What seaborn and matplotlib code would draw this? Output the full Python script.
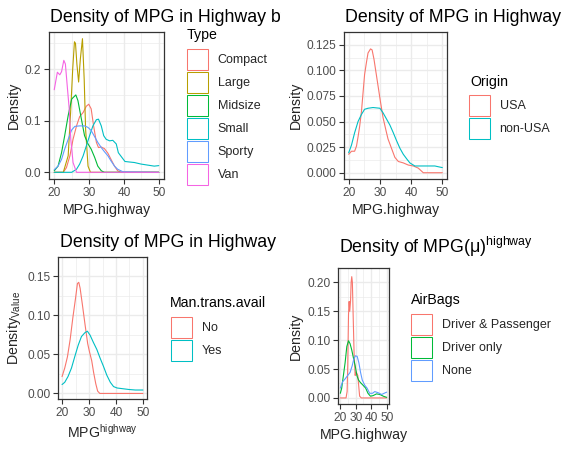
import numpy as np
import pandas as pd
import seaborn as sns
import matplotlib.pyplot as plt
from matplotlib.patches import Patch
from matplotlib.transforms import Bbox, TransformedBbox

# ---- data (density curves of MPG.highway) ----
# panel 1: by Type
compact_x = [20, 22.6, 23.5, 24.5, 25.4, 26.4, 27.3, 28.3, 29.2, 29.9, 30.6, 31.3, 32.1, 32.7, 33.5, 34.4, 35.4, 36.3, 37.3, 38.2, 39.2, 50]
compact_y = [0, 0, 0.009, 0.032, 0.064, 0.09, 0.108, 0.116, 0.128, 0.132, 0.123, 0.09, 0.058, 0.048, 0.049, 0.046, 0.037, 0.025, 0.012, 0.003, 0, 0]
large_x = [20, 22.6, 24.0, 24.7, 25.3, 25.8, 26.1, 26.5, 27.0, 27.5, 28.1, 28.6, 29.0, 29.7, 30.4, 50]
large_y = [0, 0, 0.032, 0.116, 0.2, 0.253, 0.25, 0.21, 0.175, 0.22, 0.259, 0.18, 0.084, 0.012, 0, 0]
midsize_x = [20, 21.1, 22.1, 23, 24, 25, 26.2, 26.8, 27.8, 28.7, 29.7, 30.6, 31.6, 32.5, 33.5, 34.4, 50]
midsize_y = [0.003, 0.012, 0.038, 0.071, 0.11, 0.142, 0.15, 0.139, 0.103, 0.071, 0.055, 0.045, 0.029, 0.012, 0.003, 0, 0]
small_x = [20, 25, 26.4, 27.3, 28.3, 29.2, 30.2, 31.1, 32.1, 32.7, 33.5, 34.2, 34.9, 35.9, 36.8, 37.8, 38.4, 39.4, 40.3, 41.6, 43, 44.9, 46.8, 48.7, 50]
small_y = [0, 0, 0.006, 0.016, 0.032, 0.051, 0.072, 0.09, 0.102, 0.103, 0.09, 0.071, 0.064, 0.061, 0.062, 0.055, 0.038, 0.029, 0.021, 0.02, 0.019, 0.016, 0.014, 0.012, 0.013]
sporty_x = [20, 21.1, 22.1, 23, 24, 25, 25.9, 27.3, 28.7, 29.7, 30.6, 31.6, 32.5, 33.5, 34.4, 35.4, 36.3, 37.3, 38.2, 39.7, 50]
sporty_y = [0.005, 0.012, 0.025, 0.045, 0.064, 0.082, 0.089, 0.09, 0.09, 0.087, 0.081, 0.069, 0.058, 0.048, 0.04, 0.032, 0.022, 0.012, 0.006, 0.001, 0]
van_x = [20, 20.9, 21.6, 22.1, 22.75, 23.2, 23.8, 24.3, 24.75, 25.4, 26.4, 50]
van_y = [0.16, 0.194, 0.189, 0.195, 0.217, 0.21, 0.162, 0.123, 0.064, 0.019, 0, 0]

# panel 2: by Origin
usa_x = [20, 20.9, 21.9, 22.5, 23, 23.5, 24.1, 24.6, 25.1, 25.7, 26.2, 27, 27.5, 28.1, 28.7, 29.5, 30.2, 31, 31.9, 32.6, 33.7, 34.8, 35.9, 37.5, 39.1, 40.7, 42.3, 43.9, 50]
usa_y = [0.018, 0.021, 0.021, 0.026, 0.035, 0.045, 0.06, 0.078, 0.096, 0.108, 0.117, 0.121, 0.12, 0.111, 0.099, 0.083, 0.069, 0.054, 0.042, 0.033, 0.024, 0.015, 0.011, 0.0096, 0.0075, 0.0066, 0.0045, 0, 0]
nonusa_x = [20, 20.9, 21.9, 23, 24.1, 25.1, 26.2, 27.8, 30, 31, 32.1, 33.2, 34.3, 35.3, 36.4, 37.5, 38.6, 39.6, 41.2, 44.4, 47.6, 50]
nonusa_y = [0.0195, 0.027, 0.039, 0.05, 0.057, 0.062, 0.063, 0.0637, 0.063, 0.0586, 0.0526, 0.0466, 0.039, 0.0316, 0.024, 0.018, 0.0135, 0.0096, 0.0066, 0.0066, 0.0066, 0.005]

# panel 3: by Man.trans.avail
no_x = [20, 21, 22, 23, 24, 25, 25.7, 26.2, 26.7, 27.5, 28.5, 29.5, 30.2, 31, 31.7, 32.5, 33.2, 34, 50]
no_y = [0.0216, 0.0326, 0.047, 0.069, 0.097, 0.122, 0.141, 0.1425, 0.135, 0.115, 0.089, 0.064, 0.053, 0.042, 0.027, 0.0125, 0.003, 0, 0]
yes_x = [20, 21, 22.2, 23.5, 24.7, 26, 27.2, 28.5, 29.4, 30.4, 31.6, 32.9, 34.1, 35.4, 36.6, 37.9, 39.1, 40.4, 42.2, 44.7, 47.2, 50]
yes_y = [0.0114, 0.0143, 0.0216, 0.0326, 0.047, 0.062, 0.073, 0.078, 0.0798, 0.0747, 0.0656, 0.0564, 0.0454, 0.0344, 0.0234, 0.0143, 0.0088, 0.007, 0.0062, 0.0051, 0.0044, 0.0044]

# panel 4: by AirBags
dp_x = [20, 23.7, 24.4, 24.8, 25.3, 25.7, 26.1, 26.6, 27, 27.4, 27.8, 28.3, 28.9, 29.6, 30.2, 31.3, 32.5, 33.6, 50]
dp_y = [0, 0, 0.011, 0.056, 0.144, 0.167, 0.15, 0.167, 0.2, 0.21, 0.2, 0.144, 0.078, 0.039, 0.045, 0.039, 0.003, 0, 0]
driver_x = [20, 20.9, 22, 23.1, 24.2, 25.3, 26.3, 27.4, 28.5, 29.6, 30.7, 31.8, 32.9, 34.7, 36.4, 37.9, 39.5, 41.2, 43.4, 45.6, 47.8, 50]
driver_y = [0.008, 0.017, 0.039, 0.061, 0.089, 0.099, 0.094, 0.083, 0.069, 0.056, 0.039, 0.031, 0.027, 0.022, 0.017, 0.008, 0.003, 0.004, 0.007, 0.006, 0.003, 0.001]
none_x = [20, 21.5, 23.1, 24.8, 26.3, 27.7, 28.7, 29.8, 30.9, 32, 33.1, 34.2, 35.8, 37.3, 39, 40.8, 42.3, 44.5, 46.7, 48.3, 50]
none_y = [0.017, 0.028, 0.033, 0.039, 0.044, 0.056, 0.067, 0.073, 0.072, 0.061, 0.044, 0.031, 0.022, 0.017, 0.008, 0.008, 0.011, 0.009, 0.006, 0.008, 0.01]

type_labels = ['Compact', 'Large', 'Midsize', 'Small', 'Sporty', 'Van']
origin_labels = ['USA', 'non-USA']
trans_labels = ['No', 'Yes']
airbag_labels = ['Driver & Passenger', 'Driver only', 'None']

x_ticks = [20, 30, 40, 50]
y_ticks1 = [0.0, 0.1, 0.2]
y_labels1 = ['0.0', '0.1', '0.2']
y_ticks2 = [0.0, 0.025, 0.05, 0.075, 0.1, 0.125]
y_labels2 = ['0.000', '0.025', '0.050', '0.075', '0.100', '0.125']
y_ticks3 = [0.0, 0.05, 0.1, 0.15]
y_labels3 = ['0.00', '0.05', '0.10', '0.15']
y_ticks4 = [0.0, 0.05, 0.1, 0.15, 0.2]
y_labels4 = ['0.00', '0.05', '0.10', '0.15', '0.20']


def long_df(labels, xs, ys):
    frames = [pd.DataFrame({'x': x, 'y': y, 'g': lab}) for lab, x, y in zip(labels, xs, ys)]
    return pd.concat(frames, ignore_index=True)


df1 = long_df(type_labels, [compact_x, large_x, midsize_x, small_x, sporty_x, van_x],
              [compact_y, large_y, midsize_y, small_y, sporty_y, van_y])
df2 = long_df(origin_labels, [usa_x, nonusa_x], [usa_y, nonusa_y])
df3 = long_df(trans_labels, [no_x, yes_x], [no_y, yes_y])
df4 = long_df(airbag_labels, [dp_x, driver_x, none_x], [dp_y, driver_y, none_y])

pal6 = ['#F8766D', '#B79F00', '#00BA38', '#00BFC4', '#619CFF', '#F564E3']
pal2 = ['#F8766D', '#00BFC4']
pal3 = ['#F8766D', '#00BA38', '#619CFF']

sns.set_theme(style='whitegrid')
plt.rcParams['font.family'] = ['Liberation Sans', 'DejaVu Sans']
plt.rcParams['mathtext.fontset'] = 'custom'
plt.rcParams['mathtext.rm'] = 'Liberation Sans'
plt.rcParams['mathtext.it'] = 'Liberation Sans:italic'

W, H = 563, 449
fig = plt.figure(figsize=(W / 100, H / 100), dpi=100, facecolor='white')


def panel(left, top, right, bottom):
    return fig.add_axes([left / W, 1 - bottom / H, (right - left) / W, (bottom - top) / H])


def draw(ax, df, labels, pal, yt, yl, ymax):
    sns.lineplot(data=df, x='x', y='y', hue='g', hue_order=labels, palette=pal,
                 sort=False, estimator=None, linewidth=0.8, legend=False, ax=ax)
    ax.set_xlim(18.5, 51.5)
    ax.set_ylim(-0.05 * ymax, 1.05 * ymax)
    ax.set_xticks(x_ticks)
    ax.set_xticks([25, 35, 45], minor=True)
    ax.set_yticks(yt, yl)
    ax.set_yticks([(a + b) / 2 for a, b in zip(yt[:-1], yt[1:])] + [yt[-1] + (yt[1] - yt[0]) / 2], minor=True)
    ax.set_facecolor('white')
    ax.grid(which='major', color='#EBEBEB', linewidth=1.0)
    ax.grid(which='minor', color='#EBEBEB', linewidth=0.5)
    ax.set_axisbelow(True)
    for s in ax.spines.values():
        s.set_color('#333333')
        s.set_linewidth(0.9)
    ax.tick_params(which='major', colors='#333333', labelcolor='#4D4D4D', labelsize=8.6,
                   length=3.5, width=0.8, pad=2, bottom=True, left=True)
    ax.tick_params(which='minor', length=0)


def legend(ax, labels, pal, left, top):
    handles = [Patch(facecolor='white', edgecolor=c, linewidth=0.75) for c in pal]
    ax.legend(handles, labels, loc='upper left', bbox_to_anchor=(left / W, 1 - top / H),
              bbox_transform=fig.transFigure, frameon=False, fontsize=9,
              handlelength=1.7, handleheight=2.15, labelspacing=0.2, handletextpad=0.75,
              borderpad=0, borderaxespad=0)


def ftext(x, y, s, size, **kw):
    return fig.text(x / W, 1 - y / H, s, fontsize=size, va='baseline', ha='left', color='black', **kw)


# panel 1
ax1 = panel(49, 32, 164, 179)
draw(ax1, df1, type_labels, pal6, y_ticks1, y_labels1, 0.259)
ax1.set_xlabel('MPG.highway', fontsize=10.2, labelpad=3)
ax1.set_ylabel('Density', fontsize=10.2, labelpad=3)
t = ftext(50, 21.7, 'Density of MPG in Highway by Type', 12.8)
t.set_clip_box(TransformedBbox(Bbox([[0, 0], [281 / W, 1]]), fig.transFigure))
t.set_clip_on(True)
ftext(187, 39.3, 'Type', 10.2)
legend(ax1, type_labels, pal6, 187, 49)

# panel 2
ax2 = panel(344, 32, 447, 179)
draw(ax2, df2, origin_labels, pal2, y_ticks2, y_labels2, 0.1225)
ax2.set_xlabel('MPG.highway', fontsize=10.2, labelpad=3)
ax2.set_ylabel('Density', fontsize=10.2, labelpad=3)
ftext(345, 21.7, 'Density of MPG in Highway', 12.8)
ftext(470, 86, 'Origin', 10.2)
legend(ax2, origin_labels, pal2, 469, 95)

# panel 3
ax3 = panel(58, 257, 147, 399)
draw(ax3, df3, trans_labels, pal2, y_ticks3, y_labels3, 0.1425)
ax3.set_xlabel(r'MPG$^{\mathrm{highway}}$', fontsize=10.2, labelpad=3)
ax3.set_ylabel(r'Density$_{\mathrm{Value}}$', fontsize=10.2, labelpad=3)
ftext(60, 246.7, 'Density of MPG in Highway', 12.8)
ftext(170, 307.3, 'Man.trans.avail', 10.2)
legend(ax3, trans_labels, pal2, 171, 317)

# panel 4
ax4 = panel(338, 268, 389, 404)
draw(ax4, df4, airbag_labels, pal3, y_ticks4, y_labels4, 0.21)
ax4.set_xlabel('MPG.highway', fontsize=10.2, labelpad=3)
ax4.set_ylabel('Density', fontsize=10.2, labelpad=3)
ftext(339, 253.3, r'Density of MPG(μ)$^{\mathrm{highway}}$', 12.8)
ftext(411, 304, 'AirBags', 10.2)
legend(ax4, airbag_labels, pal3, 411, 314)

fig.savefig('out.png', dpi=100, facecolor='white')
